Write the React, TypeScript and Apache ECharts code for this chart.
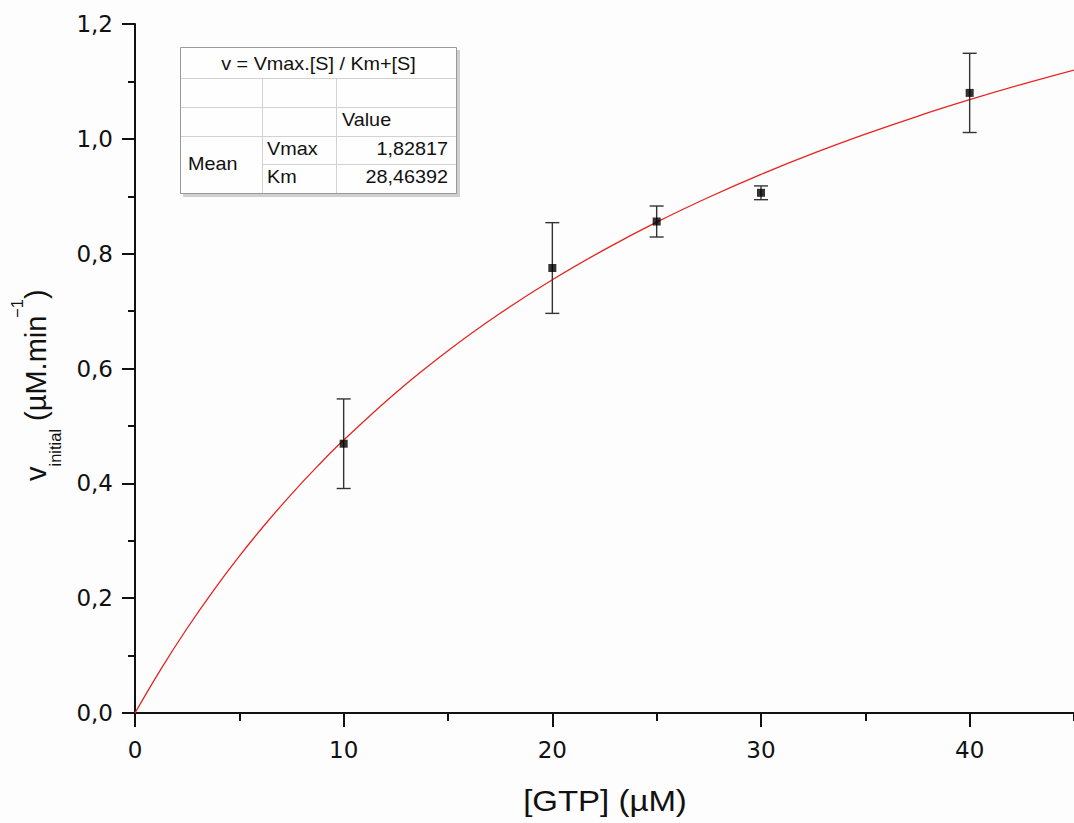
import React, { useEffect, useRef } from "react";
import * as echarts from "echarts";

// Measured data (substrate concentration, initial velocity, error)
const gtpConc = [10, 20, 25, 30, 40];
const vInitial = [0.469, 0.775, 0.856, 0.906, 1.08];
const vError = [0.078, 0.079, 0.027, 0.012, 0.069];

// Fitted curve
const fitX = [0, 1.25, 2.5, 3.75, 5, 6.25, 7.5, 8.75, 10, 12.5, 15, 17.5, 20, 22.5, 25, 27.5, 30, 32.5, 35, 37.5, 40, 42.5, 45];
const fitY = [0, 0.0769, 0.1476, 0.2128, 0.2732, 0.3291, 0.3813, 0.4299, 0.4753, 0.5579, 0.6309, 0.6961, 0.7545, 0.8071, 0.8549, 0.8983, 0.9381, 0.9746, 1.0082, 1.0393, 1.0681, 1.0949, 1.1198];

const xTickLabels = ["0", "10", "20", "30", "40"];
const yTickLabels = ["0,0", "0,2", "0,4", "0,6", "0,8", "1,0", "1,2"];

const tableTitle = "v = Vmax.[S] / Km+[S]";
const tableHeader = "Value";
const tableGroup = "Mean";
const paramNames = ["Vmax", "Km"];
const paramValues = ["1,82817", "28,46392"];

const xTitle = "[GTP] (\u00b5M)";
const yTitleMain = "v";
const yTitleSub = "initial";
const yTitleMid = " (\u00b5M.min";
const yTitleSup = "\u22121";
const yTitleEnd = ")";

const AXIS_COLOR = "#111";
const LABEL_FONT = "DejaVu Sans";
const TEXT_FONT = "Liberation Sans";

export default function App() {
  const ref = useRef<HTMLDivElement>(null);

  useEffect(() => {
    if (!ref.current) return;
    const chart = echarts.init(ref.current, undefined, { renderer: "svg" });

    const errData = gtpConc.map((x, i) => [x, vInitial[i] - vError[i], vInitial[i] + vError[i]]);
    const pts = gtpConc.map((x, i) => [x, vInitial[i]]);
    const fit = fitX.map((x, i) => [x, fitY[i]]);

    const tText = (text: string, x: number, y: number, align: string) => ({
      type: "text",
      x,
      y,
      scaleX: 1.1,
      silent: true,
      style: {
        text,
        fontFamily: TEXT_FONT,
        fontSize: 18,
        fill: "#111",
        align,
        verticalAlign: "middle",
      },
    });
    const gridLine = (x1: number, y1: number, x2: number, y2: number) => ({
      type: "line",
      silent: true,
      shape: { x1, y1, x2, y2 },
      style: { stroke: "#d2d2d2", lineWidth: 1 },
    });

    const option: any = {
      animation: false,
      backgroundColor: "#fdfdfd",
      grid: { left: 135, top: 24, right: 0, height: 689, containLabel: false },
      xAxis: [
        {
          type: "value",
          min: 0,
          max: 45,
          interval: 10,
          position: "bottom",
          offset: 0,
          axisLine: { show: true, onZero: false, lineStyle: { color: AXIS_COLOR, width: 2 } },
          axisTick: { show: true, inside: false, length: 14, lineStyle: { color: AXIS_COLOR, width: 2 } },
          minorTick: { show: false },
          splitLine: { show: false },
          axisLabel: {
            margin: 25,
            fontFamily: LABEL_FONT,
            fontSize: 23,
            color: "#111",
            showMaxLabel: false,
            formatter: (v: number) => (v % 10 === 0 ? xTickLabels[v / 10] ?? "" : ""),
          },
        },
        {
          type: "value",
          min: 0,
          max: 45,
          interval: 5,
          position: "bottom",
          offset: 0,
          axisLine: { show: false, onZero: false },
          axisTick: { show: true, inside: false, length: 8, lineStyle: { color: AXIS_COLOR, width: 2 } },
          axisLabel: { show: false },
          splitLine: { show: false },
        },
      ],
      yAxis: {
        type: "value",
        min: 0,
        max: 1.2,
        interval: 0.2,
        axisLine: { show: true, onZero: false, lineStyle: { color: AXIS_COLOR, width: 2 } },
        axisTick: { show: true, inside: false, length: 13, lineStyle: { color: AXIS_COLOR, width: 2 } },
        minorTick: { show: true, splitNumber: 2, length: 7, lineStyle: { color: AXIS_COLOR, width: 2 } },
        splitLine: { show: false },
        minorSplitLine: { show: false },
        axisLabel: {
          margin: 22,
          fontFamily: LABEL_FONT,
          fontSize: 23,
          color: "#111",
          formatter: (v: number) => yTickLabels[Math.round(v / 0.2)] ?? "",
        },
      },
      series: [
        {
          type: "line",
          data: fit,
          smooth: 0.4,
          showSymbol: false,
          silent: true,
          z: 2,
          lineStyle: { color: "#e8231f", width: 1.3 },
        },
        {
          type: "custom",
          data: errData,
          silent: true,
          z: 3,
          encode: { x: 0, y: [1, 2] },
          renderItem: (_p: any, api: any) => {
            const x = api.value(0);
            const lo = api.coord([x, api.value(1)]);
            const hi = api.coord([x, api.value(2)]);
            const w = 7;
            const st = { stroke: "#333", lineWidth: 1.4 };
            return {
              type: "group",
              children: [
                { type: "line", shape: { x1: lo[0], y1: lo[1], x2: hi[0], y2: hi[1] }, style: st },
                { type: "line", shape: { x1: lo[0] - w, y1: lo[1], x2: lo[0] + w, y2: lo[1] }, style: st },
                { type: "line", shape: { x1: hi[0] - w, y1: hi[1], x2: hi[0] + w, y2: hi[1] }, style: st },
              ],
            };
          },
        },
        {
          type: "scatter",
          data: pts,
          symbol: "rect",
          symbolSize: 8,
          silent: true,
          z: 4,
          itemStyle: { color: "#000" },
        },
      ],
      graphic: [
        // table shadow and body
        { type: "rect", silent: true, shape: { x: 183, y: 50, width: 277, height: 147 }, style: { fill: "#cfcfcf" } },
        { type: "rect", silent: true, shape: { x: 180.5, y: 47.5, width: 276, height: 146 }, style: { fill: "#fefefe", stroke: "#9a9a9a", lineWidth: 1 } },
        gridLine(181, 78.5, 456, 78.5),
        gridLine(181, 107.5, 456, 107.5),
        gridLine(181, 136.5, 456, 136.5),
        gridLine(262, 164.5, 456, 164.5),
        gridLine(262.5, 79, 262.5, 193),
        gridLine(336.5, 79, 336.5, 193),
        tText(tableTitle, 318.5, 64, "center"),
        tText(tableHeader, 342, 120, "left"),
        tText(tableGroup, 188, 163.5, "left"),
        tText(paramNames[0], 267, 149, "left"),
        tText(paramNames[1], 267, 177, "left"),
        tText(paramValues[0], 448, 149, "right"),
        tText(paramValues[1], 448, 177, "right"),
        // x-axis title
        {
          type: "text",
          x: 605,
          y: 801,
          scaleX: 1.1,
          silent: true,
          style: { text: xTitle, fontFamily: TEXT_FONT, fontSize: 30, fill: "#111", align: "center", verticalAlign: "middle" },
        },
        // y-axis title (rotated)
        {
          type: "group",
          x: 0,
          y: 481,
          rotation: Math.PI / 2,
          silent: true,
          children: [
            { type: "text", x: 0, y: 36, style: { text: yTitleMain, fontFamily: TEXT_FONT, fontSize: 29, fill: "#111", align: "left", verticalAlign: "middle" } },
            { type: "text", x: 14.5, y: 55, style: { text: yTitleSub, fontFamily: TEXT_FONT, fontSize: 16.5, fill: "#111", align: "left", verticalAlign: "middle" } },
            { type: "text", x: 52, y: 36, style: { text: yTitleMid, fontFamily: TEXT_FONT, fontSize: 29, fill: "#111", align: "left", verticalAlign: "middle" } },
            { type: "text", x: 163, y: 17, style: { text: yTitleSup, fontFamily: TEXT_FONT, fontSize: 16.5, fill: "#111", align: "left", verticalAlign: "middle" } },
            { type: "text", x: 182, y: 36, style: { text: yTitleEnd, fontFamily: TEXT_FONT, fontSize: 29, fill: "#111", align: "left", verticalAlign: "middle" } },
          ],
        },
      ],
    };

    chart.setOption(option);
    return () => chart.dispose();
  }, []);

  return (
    <div
      ref={ref}
      style={{ position: "absolute", left: 0, top: 0, width: 1074, height: 823 }}
    />
  );
}
